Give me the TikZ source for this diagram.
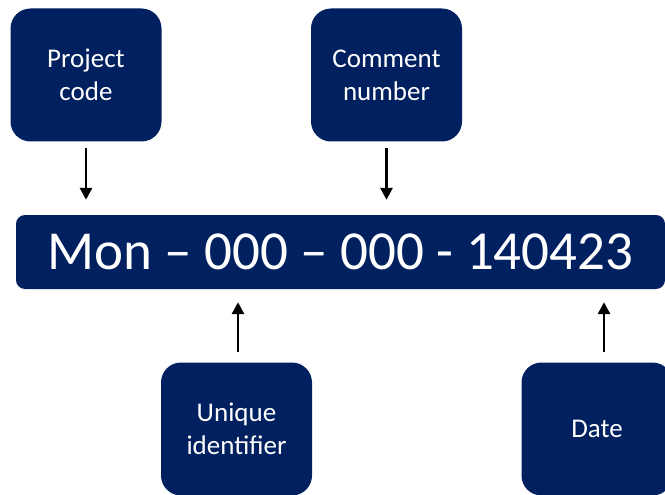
\documentclass[tikz,border=0pt]{standalone}
\usepackage{fontspec}
\setmainfont{Carlito}
\usetikzlibrary{arrows.meta}

\definecolor{navy}{HTML}{002060}
\colorlet{box fill}{navy}
\tikzset{part box/.style={fill=box fill, draw=none, rounded corners=20pt,
        minimum width=151pt, minimum height=133pt, inner sep=0pt,
        align=center, text=white, font=\fontsize{27}{33}\selectfont},
    code bar/.style={fill=box fill, draw=none, rounded corners=9pt,
        minimum width=649pt, minimum height=74pt, inner sep=0pt,
        text=white, font=\fontsize{55}{62}\selectfont},
    pointer/.style={draw=black, line width=2.8pt,
        -{Triangle[length=12pt,width=12pt]}}}

\begin{document}
\begin{tikzpicture}[x=1pt, y=-1pt]
            \useasboundingbox (0,0) rectangle (665,495);
            \clip (0,0) rectangle (665,495);
            % fields above and below
            \node[part box] (project) at (86,75) {Project\\code};
            \node[part box] (comment) at (386.5,75) {Comment\\number};
            \node[part box] (unique) at (236.5,429) {Unique\\identifier};
            \node[part box] (date) at (597,429) {Date};
            % the reference itself
            \node[code bar] (ref) at (340.5,252) {Mon -- 000 -- 000 - 140423};
            % arrows
            \draw[pointer, shorten <=6pt, shorten >=15pt]
                (project.south) -- (project.south |- ref.north);
            \draw[pointer, shorten <=6pt, shorten >=15pt]
                (comment.south) -- (comment.south |- ref.north);
            \draw[pointer, shorten <=10pt, shorten >=13pt]
                ([xshift=1.5pt]unique.north) -- ([xshift=1.5pt]unique.north |- ref.south);
            \draw[pointer, shorten <=10pt, shorten >=13pt]
                ([xshift=7pt]date.north) -- ([xshift=7pt]date.north |- ref.south);
        \end{tikzpicture}
\end{document}
